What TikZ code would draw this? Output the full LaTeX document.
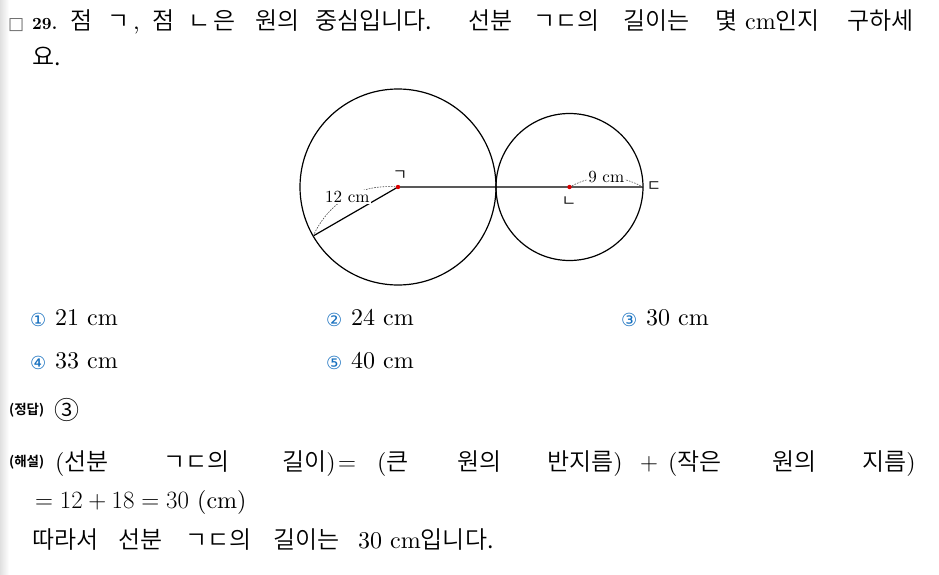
\documentclass[tikz,border=0pt]{standalone}
\usepackage{fontspec}
\setmainfont{lmroman10-regular.otf}[BoldFont=lmroman10-bold.otf]
\IfFontExistsTF{Noto Sans CJK KR DemiLight}
  {\newfontfamily\krfont{Noto Sans CJK KR DemiLight}[BoldFont={Noto Sans CJK KR Bold}]}
  {\newfontfamily\krfont{Noto Sans CJK KR}}
\newfontfamily\symfont{DejaVu Sans}
\usetikzlibrary{calc}
\definecolor{optblue}{RGB}{20,110,190}
\newcommand*{\lp}{{\rmfamily(}}
\newcommand*{\rp}{{\rmfamily)}}
\newcommand*{\unitcm}{{\rmfamily cm}}

\begin{document}
\begin{tikzpicture}[x=1pt, y=-1pt,
  txt/.style={anchor=base west, inner sep=0pt, font=\krfont\fontsize{24}{28}\selectfont},
  small/.style={anchor=base west, inner sep=0pt, font=\krfont\bfseries\fontsize{13.5}{16}\selectfont},
  opt/.style={anchor=base west, inner sep=0pt, text=optblue, font=\symfont\fontsize{18}{20}\selectfont},
  jamo/.style={inner sep=0pt, font=\krfont\fontsize{16}{18}\selectfont},
  lbl/.style={fill=white, text=black, inner sep=1pt, font=\fontsize{17}{20}\selectfont},
  ring/.style={line width=1.2pt},
  guide/.style={dash pattern=on 1.6pt off 1.2pt, line width=0.6pt, black!70},
  dot/.style={fill=red!85!black}]
  \useasboundingbox (0,0) rectangle (939,575);
  \shade[left color=black!12, right color=white] (0,0) rectangle (9,575);

  % question
  \node[anchor=base west, inner sep=0pt, text=black!60, font=\symfont\fontsize{17}{20}\selectfont] (box) at (8,30) {□};
  \node[anchor=base west, inner sep=0pt, font=\bfseries\fontsize{17}{20}\selectfont] (num) at (32,30) {29.};
  \foreach \x/\w in {70/점, 107/ㄱ, 152/점, 188/ㄴ, 213/은, 255/원의, 315/중심입니다., 468/선분, 533/ㄱㄷ의, 623/길이는, 715/몇, 745/{\unitcm 인지}, 847/구하세}
    \node[txt] (q\x) at (\x,30) {\w};
  \node[txt] (qcomma) at (133,30) {{\rmfamily,}};
  \node[txt] (qend) at (32,66) {요.};

  % figure
  \coordinate (G) at (398,187);
  \coordinate (N) at (569.5,187);
  \coordinate (D) at (643,187);
  \coordinate (P) at ($(G)+(150:98)$);
  \draw[ring] (G) circle[radius=98pt];
  \draw[ring] (N) circle[radius=73.5pt];
  \draw[line width=1.2pt] (P) -- (G) -- (D);
  \draw[guide] (P) to[bend left=35] node[lbl] (len12) {12 cm} (G);
  \draw[guide] (N) to[bend left=28] node[lbl] (len9) {9 cm} (D);
  \fill[dot] (G) circle[radius=2.2pt];
  \fill[dot] (N) circle[radius=2.2pt];
  \node[jamo] (kG) at (400,176) {ㄱ};
  \node[jamo] (kN) at (569,202) {ㄴ};
  \node[jamo] (kD) at (654,187) {ㄷ};

  % choices
  \foreach \x/\y/\c/\v in {31/325/①/21, 327/325/②/24, 622/325/③/30, 31/368/④/33, 327/368/⑤/40} {
    \node[opt] (c\v) at (\x-1,\y+1) {\c};
    \node[anchor=base west, inner sep=0pt, font=\fontsize{24}{28}\selectfont] (a\v) at (\x+24,\y) {\v\ cm};
  }

  % answer
  \node[small] (ans) at (9,414) {(정답)};
  \node[anchor=base west, inner sep=0pt, font=\krfont\fontsize{25}{30}\selectfont] (ansv) at (54,419) {③};
  \node[small] (expl) at (9,466) {(해설)};
  \foreach \x/\w in {55/{\lp 선분}, 163/ㄱㄷ의, 282/{길이\rp}, 338/{$=$}, 377/{\lp 큰}, 457/원의, 547/{반지름\rp}, 640/{$+$}, 668/{\lp 작은}, 772/원의, 862/{지름\rp}}
    \node[txt] (e\x) at (\x,470) {\w};
  \node[txt, font=\fontsize{24}{28}\selectfont] (sum) at (35,508) {$=12+18=30$ (cm)};
  \foreach \x/\w in {32/따라서, 118/선분, 185/ㄱㄷ의, 273/길이는, 358/{{\rmfamily 30 cm}입니다.}}
    \node[txt] (f\x) at (\x,548) {\w};
\end{tikzpicture}
\end{document}
